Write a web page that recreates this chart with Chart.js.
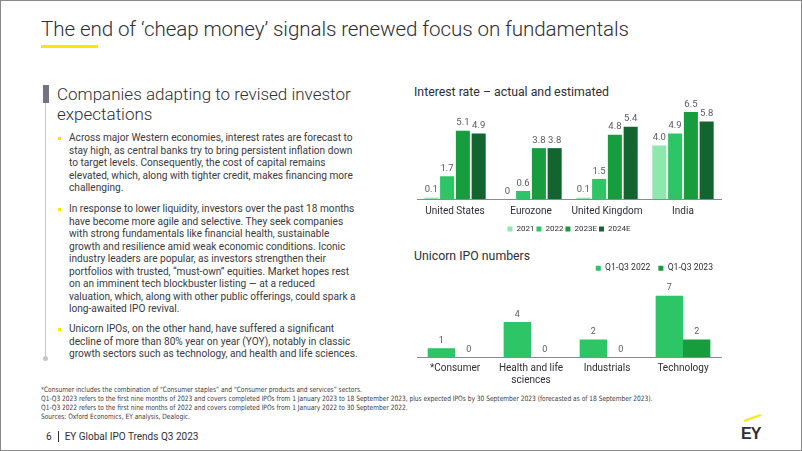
<!DOCTYPE html>
<html>
<head>
<meta charset="utf-8">
<script src="https://cdn.jsdelivr.net/npm/chart.js@4.4.0/dist/chart.umd.min.js"></script>
<style>
  html, body { margin: 0; padding: 0; background: #fff; }
  #slide { position: relative; width: 802px; height: 451px; box-sizing: border-box; border: 1px solid #8a8a8a; overflow: hidden; font-family: Roboto, "Noto Sans", sans-serif; color: #2e2e38; }
  .abs { position: absolute; white-space: nowrap; }
  #title { left: 40px; top: 16px; font-size: 20.6px; font-weight: 300; letter-spacing: -0.1px; }
  #titleBar { left: 40px; top: 44px; width: 57px; height: 3px; background: #ffe600; }
  #sideBlock { left: 42px; top: 84px; width: 6px; height: 18px; background: #747480; }
  #sideLine { left: 44px; top: 102px; width: 1px; height: 255px; background: #c4c4cd; }
  #sideDot { left: 42px; top: 355px; width: 5px; height: 5px; border-radius: 50%; background: #c4c4cd; }
  #heading { left: 56px; top: 83px; font-size: 17px; font-weight: 300; line-height: 20px; color: #2e2e38; }
  .para { left: 68px; font-size: 10.15px; line-height: 12.5px; color: #3a3a44; }
  .dot { width: 3px; height: 3px; background: #ffe600; left: 57px; }
  .ctitle { left: 413px; font-size: 12.3px; font-weight: 400; color: #2e2e38; }
  .foot { left: 40px; font-family: "Liberation Sans Narrow", "DejaVu Sans Condensed", sans-serif; font-size: 7.3px; color: #3a3a44; transform: scaleX(0.9); transform-origin: left top; }
  #footer { left: 45px; top: 430px; font-size: 10px; color: #2e2e38; }
  #footer span { display: inline-block; width: 1px; height: 11px; background: #2e2e38; margin: 0 6px -2px 6px; }
  #eyText { left: 740px; top: 424px; font-size: 16px; font-weight: 900; color: #2e2e38; letter-spacing: -1px; font-family: "Liberation Sans", Arial, sans-serif; }
  #eySlash { left: 743px; top: 419px; width: 18px; height: 2px; background: #ffe600; transform: rotate(-20deg); transform-origin: left center; }
  #c1wrap { left: 400px; top: 95px; width: 330px; height: 147px; }
  #c2wrap { left: 400px; top: 253px; width: 330px; height: 137px; }
</style>
</head>
<body>
<div id="slide">
  <div id="title" class="abs">The end of ‘cheap money’ signals renewed focus on fundamentals</div>
  <div id="titleBar" class="abs"></div>

  <div id="sideBlock" class="abs"></div>
  <div id="sideLine" class="abs"></div>
  <div id="sideDot" class="abs"></div>
  <div id="heading" class="abs">Companies adapting to revised investor<br>expectations</div>

  <div class="abs dot" style="top:136px"></div>
  <div class="abs para" style="top:131px">Across major Western economies, interest rates are forecast to<br>stay high, as central banks try to bring persistent inflation down<br>to target levels. Consequently, the cost of capital remains<br>elevated, which, along with tighter credit, makes financing more<br>challenging.</div>

  <div class="abs dot" style="top:207px"></div>
  <div class="abs para" style="top:202px">In response to lower liquidity, investors over the past 18 months<br>have become more agile and selective. They seek companies<br>with strong fundamentals like financial health, sustainable<br>growth and resilience amid weak economic conditions. Iconic<br>industry leaders are popular, as investors strengthen their<br>portfolios with trusted, “must-own” equities. Market hopes rest<br>on an imminent tech blockbuster listing — at a reduced<br>valuation, which, along with other public offerings, could spark a<br>long-awaited IPO revival.</div>

  <div class="abs dot" style="top:327px"></div>
  <div class="abs para" style="top:322px">Unicorn IPOs, on the other hand, have suffered a significant<br>decline of more than 80% year on year (YOY), notably in classic<br>growth sectors such as technology, and health and life sciences.</div>

  <div class="abs ctitle" style="top:84px">Interest rate – actual and estimated</div>
  <div class="abs" id="c1wrap"><canvas id="rateChart"></canvas></div>

  <div class="abs ctitle" style="top:248px">Unicorn IPO numbers</div>
  <div class="abs" id="c2wrap"><canvas id="ipoChart"></canvas></div>

  <div class="abs foot" style="top:384px">*Consumer includes the combination of “Consumer staples” and “Consumer products and services” sectors.</div>
  <div class="abs foot" style="top:393px">Q1-Q3 2023 refers to the first nine months of 2023 and covers completed IPOs from 1 January 2023 to 18 September 2023, plus expected IPOs by 30 September 2023 (forecasted as of 18 September 2023).</div>
  <div class="abs foot" style="top:402px">Q1-Q3 2022 refers to the first nine months of 2022 and covers completed IPOs from 1 January 2022 to 30 September 2022.</div>
  <div class="abs foot" style="top:411px">Sources: Oxford Economics, EY analysis, Dealogic.</div>

  <div class="abs" id="footer">6<span></span>EY Global IPO Trends Q3 2023</div>
  <div class="abs" id="eySlash"></div>
  <div class="abs" id="eyText">EY</div>
</div>

<script>
// interest rate chart
var regions = ['United States', 'Eurozone', 'United Kingdom', 'India'];
var years = ['2021', '2022', '2023E', '2024E'];
var rate2021 = [0.1, 0, 0.1, 4.0];
var rate2022 = [1.7, 0.6, 1.5, 4.9];
var rate2023E = [5.1, 3.8, 4.8, 6.5];
var rate2024E = [4.9, 3.8, 5.4, 5.8];

// unicorn IPO chart
var sectors = [['*Consumer'], ['Health and life', 'sciences'], ['Industrials'], ['Technology']];
var periods = ['Q1-Q3 2022', 'Q1-Q3 2023'];
var ipo2022 = [1, 4, 2, 7];
var ipo2023 = [0, 0, 0, 2];

var green1 = '#8ce8ad';
var green2 = '#2dc566';
var green3 = '#189d3e';
var green4 = '#13652f';

var fontFamily = 'Roboto, "Noto Sans", sans-serif';

// draws the value above every bar
var valueLabels = {
    id: 'valueLabels',
    afterDatasetsDraw: function(chart, args, opts) {
        var ctx = chart.ctx;
        ctx.save();
        ctx.font = opts.size + 'px ' + fontFamily;
        ctx.fillStyle = '#5a5a64';
        ctx.textAlign = 'center';
        ctx.textBaseline = 'bottom';
        chart.data.datasets.forEach(function(ds, i) {
            chart.getDatasetMeta(i).data.forEach(function(bar, j) {
                var v = ds.data[j];
                var txt = opts.decimals && v !== 0 ? v.toFixed(1) : String(v);
                ctx.fillText(txt, bar.x, bar.y - opts.offset);
            });
        });
        ctx.restore();
    }
};

function xAxis(pad) {
    return {
        grid: { display: false, drawTicks: false },
        border: { color: '#8a8a94', width: 1 },
        ticks: { color: '#2e2e38', font: { family: fontFamily, size: 10 }, padding: pad,
                 maxRotation: 0, minRotation: 0, autoSkip: false }
    };
}

new Chart(document.getElementById('rateChart'), {
    type: 'bar',
    data: {
        labels: regions,
        datasets: [
            { label: years[0], data: rate2021, backgroundColor: green1 },
            { label: years[1], data: rate2022, backgroundColor: green2 },
            { label: years[2], data: rate2023E, backgroundColor: green3 },
            { label: years[3], data: rate2024E, backgroundColor: green4 }
        ]
    },
    options: {
        responsive: true,
        maintainAspectRatio: false,
        animation: false,
        layout: { padding: { left: 16, right: 10, top: 8, bottom: 0 } },
        datasets: { bar: { categoryPercentage: 0.83, barPercentage: 0.89 } },
        scales: {
            x: xAxis(6),
            y: { display: false, min: 0, max: 7.1 }
        },
        plugins: {
            legend: {
                position: 'bottom',
                labels: { usePointStyle: true, pointStyle: 'rect', boxWidth: 5, boxHeight: 5, padding: 2,
                          color: '#2e2e38', font: { family: fontFamily, size: 8 } }
            },
            tooltip: { enabled: false },
            valueLabels: { size: 9.5, offset: 3, decimals: true }
        }
    },
    plugins: [valueLabels]
});

new Chart(document.getElementById('ipoChart'), {
    type: 'bar',
    data: {
        labels: sectors,
        datasets: [
            { label: periods[0], data: ipo2022, backgroundColor: green2 },
            { label: periods[1], data: ipo2023, backgroundColor: green3 }
        ]
    },
    options: {
        responsive: true,
        maintainAspectRatio: false,
        animation: false,
        layout: { padding: { left: 16, right: 10, top: 2, bottom: 0 } },
        datasets: { bar: { categoryPercentage: 0.72, barPercentage: 1.0 } },
        scales: {
            x: xAxis(5),
            y: { display: false, min: 0, max: 8.5 }
        },
        plugins: {
            legend: {
                position: 'top',
                align: 'end',
                labels: { usePointStyle: true, pointStyle: 'rect', boxWidth: 5, boxHeight: 5, padding: 8,
                          color: '#2e2e38', font: { family: fontFamily, size: 8.6 } }
            },
            tooltip: { enabled: false },
            valueLabels: { size: 9, offset: 3, decimals: false }
        }
    },
    plugins: [valueLabels]
});
</script>
</body>
</html>
